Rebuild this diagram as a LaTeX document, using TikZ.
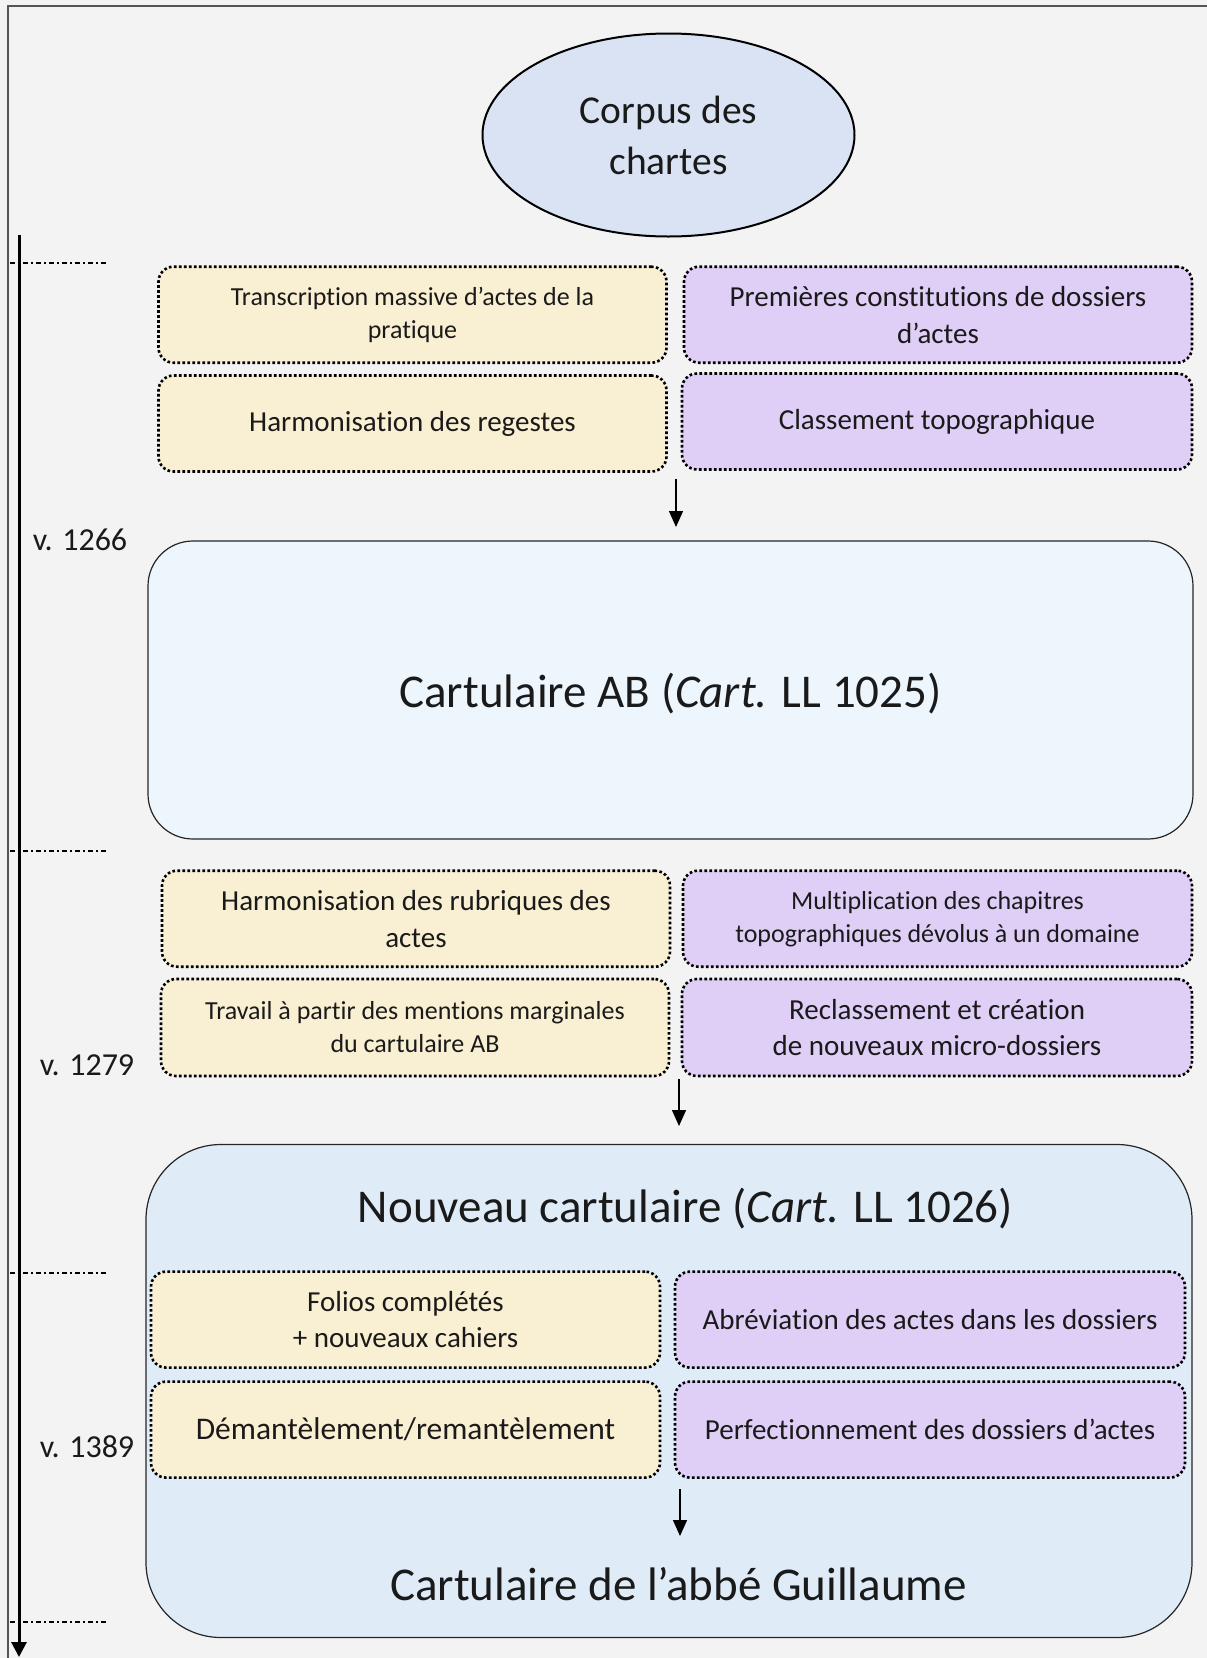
\documentclass[tikz,border=0pt]{standalone}
\usepackage{fontspec}
\setmainfont{Carlito}[Ligatures=NoCommon]
\usetikzlibrary{arrows.meta,shapes.geometric}
\definecolor{bgc}{HTML}{F3F3F3}
\definecolor{framec}{HTML}{555555}
\definecolor{yel}{HTML}{F9EFD2}
\definecolor{pur}{HTML}{DFCEF6}
\definecolor{abfill}{HTML}{EEF6FD}
\definecolor{bigfill}{HTML}{DFEBF7}
\definecolor{ellfill}{HTML}{DAE3F3}
\definecolor{txt}{HTML}{1A1A1A}
\newcommand{\fsz}[2]{\fontsize{#1}{#2}\selectfont}
\tikzset{
  dotbox/.style={draw=black, line width=2.6pt, dash pattern=on 2.6pt off 2.4pt,
    rounded corners=15pt, align=center, text=txt, inner sep=4pt},
  ybox/.style={dotbox, fill=yel},
  pbox/.style={dotbox, fill=pur},
  bigbox/.style={draw=black!85, line width=1.2pt, text=txt},
  arr/.style={line width=1.4pt, -{Triangle[length=16pt,width=14pt]}},
  dashdot/.style={line width=1.2pt, dash pattern=on 5pt off 3pt on 2pt off 3pt},
  lbl/.style={text=txt, font=\fsz{32}{38}},
  title/.style={text=txt, font=\fsz{47}{56}}
}
\begin{document}
\begin{tikzpicture}[x=1pt,y=-1pt]
\useasboundingbox (0,0) rectangle (1207,1658);
\fill[bgc] (0,0) rectangle (1207,1658);
\draw[framec,line width=1.5pt] (8,1658) -- (8,6) -- (1207,6);

% timeline
\coordinate (tl0) at (19,235);
\coordinate (tl1) at (19,1657);
\draw[line width=3pt, -{Triangle[length=15pt,width=15pt]}] (tl0) -- (tl1);
\foreach \yy/\nm in {263/d1,851/d2,1273/d3,1622/d4}{
  \coordinate (\nm a) at (10,\yy);
  \coordinate (\nm b) at (106,\yy);
  \draw[dashdot] (\nm a) -- (\nm b);
}
\node[lbl] (v1) at (80,540) {v. 1266};
\node[lbl] (v2) at (87,1065) {v. 1279};
\node[lbl] (v3) at (87,1447) {v. 1389};

% ellipse
\node[ellipse, draw=black, line width=2pt, fill=ellfill, minimum width=372pt, minimum height=203pt,
  align=center, text=txt, font=\fsz{39.5}{51}] (corpus) at (668.5,135) {Corpus des\\chartes};

% row 1-2
\node[ybox, minimum width=508pt, minimum height=96pt, font=\fsz{26}{33}] (c1) at (412.5,314.7)
  {Transcription massive d’actes de la\\pratique};
\node[pbox, minimum width=508pt, minimum height=96pt, font=\fsz{29}{37}] (c2) at (938,314.7)
  {Premières constitutions de dossiers\\d’actes};
\node[ybox, minimum width=508pt, minimum height=96pt, font=\fsz{29}{36}] (c3) at (412.5,423.5)
  {Harmonisation des regestes};
\node[pbox, minimum width=510pt, minimum height=96pt, font=\fsz{29}{36}] (c4) at (937,421.5)
  {Classement topographique};

\coordinate (a1s) at (676,479);
\coordinate (a1e) at (676,527);
\draw[arr] (a1s) -- (a1e);

\node[bigbox, fill=abfill, rounded corners=45pt, minimum width=1045pt, minimum height=298pt]
  (ab) at (670.5,690) {};
\node[title] (t1) at (670.5,694) {Cartulaire AB (\textit{Cart.} LL 1025)};

% row 3-4
\node[ybox, minimum width=508pt, minimum height=96pt, font=\fsz{29}{37}] (c5) at (416,918.7)
  {Harmonisation des rubriques des\\actes};
\node[pbox, minimum width=509pt, minimum height=96pt, font=\fsz{26}{33}] (c6) at (937.5,918.7)
  {Multiplication des chapitres\\topographiques dévolus à un domaine};
\node[ybox, minimum width=508pt, minimum height=97pt, font=\fsz{26}{33}] (c7) at (415,1027.5)
  {Travail à partir des mentions marginales\\du cartulaire AB};
\node[pbox, minimum width=510pt, minimum height=97pt, font=\fsz{29}{36}] (c8) at (937,1027.5)
  {Reclassement et création\\de nouveaux micro-dossiers};

\coordinate (a2s) at (679,1079);
\coordinate (a2e) at (679,1126);
\draw[arr] (a2s) -- (a2e);

\node[bigbox, fill=bigfill, rounded corners=75pt, minimum width=1046pt, minimum height=493pt]
  (big) at (669,1391) {};
\node[title] (t2) at (685.5,1209) {Nouveau cartulaire (\textit{Cart.} LL 1026)};
\node[title] (t3) at (678.6,1584) {Cartulaire de l’abbé Guillaume};

% row 5-6
\node[ybox, minimum width=509pt, minimum height=96pt, font=\fsz{29}{36}] (c9) at (405.5,1319.6)
  {Folios complétés\\+ nouveaux cahiers};
\node[pbox, minimum width=510pt, minimum height=96pt, font=\fsz{29}{36}] (c10) at (930,1319.6)
  {Abréviation des actes dans les dossiers};
\node[ybox, minimum width=509pt, minimum height=96pt, font=\fsz{31.5}{38}] (c11) at (405.5,1429.6)
  {Démantèlement/remantèlement};
\node[pbox, minimum width=510pt, minimum height=96pt, font=\fsz{29}{36}] (c12) at (930,1429.6)
  {Perfectionnement des dossiers d’actes};

\coordinate (a3s) at (680,1489);
\coordinate (a3e) at (680,1536);
\draw[arr] (a3s) -- (a3e);
\end{tikzpicture}
\end{document}
